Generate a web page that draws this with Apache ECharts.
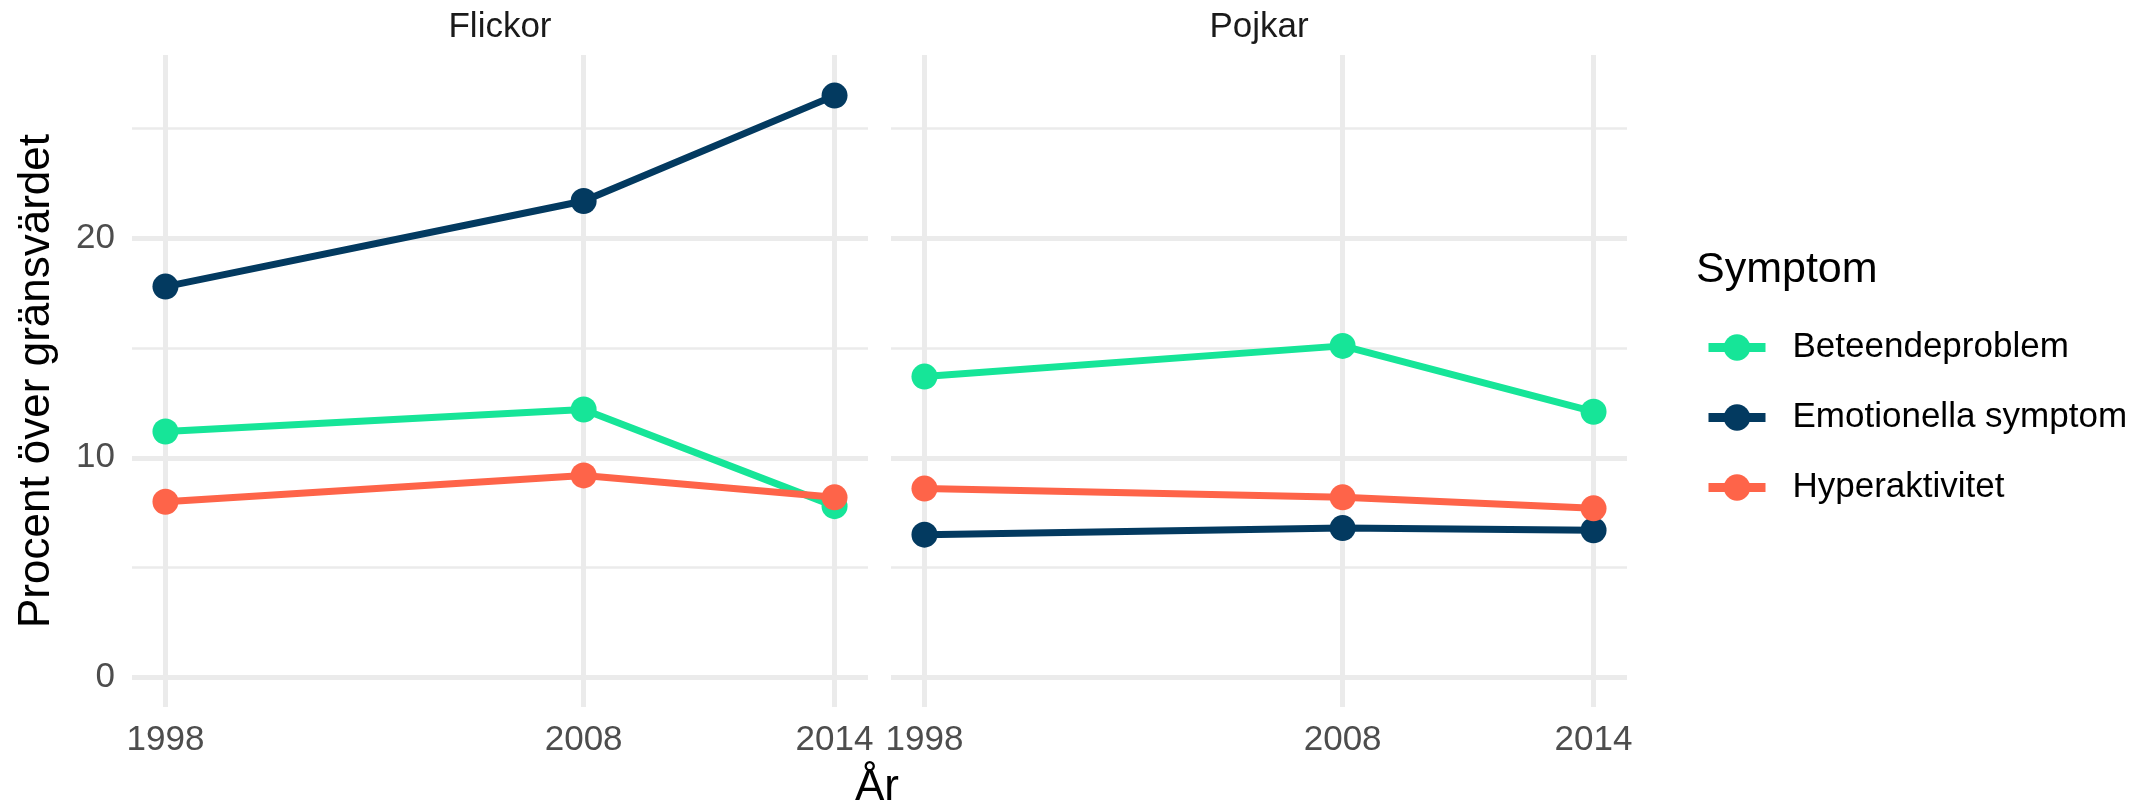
<!DOCTYPE html>
<html>
<head>
<meta charset="utf-8">
<title>Symptom</title>
<script src="https://cdn.jsdelivr.net/npm/echarts@6/dist/echarts.min.js"></script>
<style>
    html, body { margin: 0; padding: 0; background: #fff; }
    #chart { width: 2139px; height: 804px; }
</style>
</head>
<body>
<div id="chart"></div>
<script>
// data
var years = [1998, 2008, 2014];
var yTicks = [0, 10, 20];
var yMinor = [5, 15, 25];
var panels = ['Flickor', 'Pojkar'];
var symptoms = ['Beteendeproblem', 'Emotionella symptom', 'Hyperaktivitet'];
var colors = ['#16E598', '#033A60', '#FE6449'];

var flickorBeteende = [11.2, 12.2, 7.8];
var flickorEmotion = [17.8, 21.7, 26.5];
var flickorHyper = [8.0, 9.2, 8.2];
var pojkarBeteende = [13.7, 15.1, 12.1];
var pojkarEmotion = [6.5, 6.8, 6.7];
var pojkarHyper = [8.6, 8.2, 7.7];

var panelValues = [
    [flickorBeteende, flickorEmotion, flickorHyper],
    [pojkarBeteende, pojkarEmotion, pojkarHyper]
];

var font = 'Liberation Sans, Arial, Helvetica, sans-serif';
var gridColor = '#EBEBEB';
var panelLeft = [132, 891];
var panelWidth = 736;

var chart = echarts.init(document.getElementById('chart'));

var grids = [], xAxes = [], yAxes = [], series = [];
for (var p = 0; p < panels.length; p++) {
    grids.push({ left: panelLeft[p], top: 55, width: panelWidth, height: 652 });
    xAxes.push({
        type: 'value', gridIndex: p, min: 1997.2, max: 2014.8,
        axisLine: { show: false }, axisTick: { show: false }, splitLine: { show: false },
        axisLabel: {
            customValues: years, margin: 16, fontSize: 35, color: '#4D4D4D', fontFamily: font,
            formatter: function (v) { return String(v); }
        }
    });
    yAxes.push({
        type: 'value', gridIndex: p, min: -1.35, max: 28.35,
        axisLine: { show: false }, axisTick: { show: false }, splitLine: { show: false },
        axisLabel: {
            show: p === 0, customValues: yTicks, margin: 17, fontSize: 35, color: '#4D4D4D', fontFamily: font
        },
        name: p === 0 ? 'Procent över gränsvärdet' : '',
        nameLocation: 'middle', nameRotate: 90, nameGap: 73,
        nameTextStyle: { fontSize: 44, color: '#000', fontFamily: font }
    });

    // grid lines (ggplot theme_minimal style), kept under the data
    var lines = [];
    yMinor.forEach(function (v) { lines.push({ yAxis: v, lineStyle: { color: gridColor, width: 2.5, type: 'solid' } }); });
    yTicks.forEach(function (v) { lines.push({ yAxis: v, lineStyle: { color: gridColor, width: 5, type: 'solid' } }); });
    years.forEach(function (v) { lines.push({ xAxis: v, lineStyle: { color: gridColor, width: 5, type: 'solid' } }); });
    series.push({
        type: 'line', xAxisIndex: p, yAxisIndex: p, data: [], z: 1, silent: true,
        markLine: { z: 1, silent: true, symbol: 'none', label: { show: false }, animation: false, data: lines }
    });

    for (var s = 0; s < symptoms.length; s++) {
        var vals = panelValues[p][s];
        series.push({
            name: symptoms[s], type: 'line', xAxisIndex: p, yAxisIndex: p, z: 3,
            data: years.map(function (y, i) { return [y, vals[i]]; }),
            symbol: 'circle', symbolSize: 26,
            lineStyle: { width: 7, color: colors[s] },
            itemStyle: { color: colors[s], borderWidth: 0 },
            animation: false
        });
    }
}

var option = {
    backgroundColor: '#fff',
    textStyle: { fontFamily: font },
    grid: grids,
    xAxis: xAxes,
    yAxis: yAxes,
    legend: {
        data: symptoms, orient: 'vertical', left: 1699, top: 325,
        itemWidth: 57, itemHeight: 33, itemGap: 35,
        lineStyle: { width: 9 },
        textStyle: { fontSize: 35, color: '#000', fontFamily: font, padding: [0, 0, 0, 22] }
    },
    graphic: [
        { type: 'text', x: 500, y: 27, style: { text: panels[0], font: '35px ' + font, fill: '#1A1A1A', align: 'center', verticalAlign: 'middle' } },
        { type: 'text', x: 1259, y: 27, style: { text: panels[1], font: '35px ' + font, fill: '#1A1A1A', align: 'center', verticalAlign: 'middle' } },
        { type: 'text', x: 877, y: 788, style: { text: 'År', font: '44px ' + font, fill: '#000', align: 'center', verticalAlign: 'middle' } },
        { type: 'text', x: 1696, y: 270, style: { text: 'Symptom', font: '43px ' + font, fill: '#000', align: 'left', verticalAlign: 'middle' } }
    ],
    series: series
};
chart.setOption(option);
</script>
</body>
</html>
